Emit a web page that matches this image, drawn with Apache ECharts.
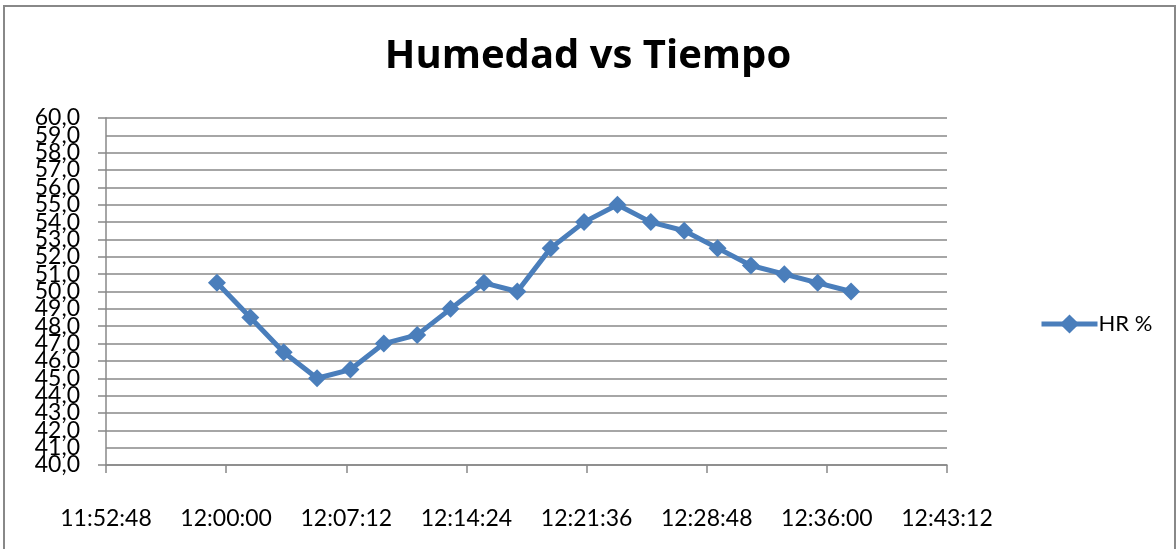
<!DOCTYPE html>
<html>
<head>
<meta charset="utf-8">
<title>Humedad vs Tiempo</title>
<script src="https://cdn.jsdelivr.net/npm/echarts@6/dist/echarts.min.js"></script>
<style>
  html, body { margin: 0; padding: 0; background: #ffffff; }
  #chart { width: 1176px; height: 549px; }
</style>
</head>
<body>
<div id="chart"></div>
<script>
// Relative humidity readings, one every two minutes
const sampleTimes = [
  '11:59:27', '12:01:27', '12:03:27', '12:05:27', '12:07:27',
  '12:09:27', '12:11:27', '12:13:27', '12:15:27', '12:17:27',
  '12:19:27', '12:21:27', '12:23:27', '12:25:27', '12:27:27',
  '12:29:27', '12:31:27', '12:33:27', '12:35:27', '12:37:27'
];
const humidity = [
  50.5, 48.5, 46.5, 45.0, 45.5, 47.0, 47.5, 49.0, 50.5, 50.0,
  52.5, 54.0, 55.0, 54.0, 53.5, 52.5, 51.5, 51.0, 50.5, 50.0
];
const seriesName = 'HR %';
const chartTitle = 'Humedad vs Tiempo';

// Time axis range and step (7 min 12 s), expressed as seconds of the day
const timeAxisMin = '11:52:48';
const timeAxisMax = '12:43:12';
const timeAxisStep = 432;

// Humidity axis range and step
const humMin = 40;
const humMax = 60;
const humStep = 1;

function toSeconds(t) {
  const p = t.split(':').map(Number);
  return p[0] * 3600 + p[1] * 60 + p[2];
}
function toClock(s) {
  const h = Math.floor(s / 3600);
  const m = Math.floor((s % 3600) / 60);
  const sec = Math.round(s % 60);
  return h + ':' + String(m).padStart(2, '0') + ':' + String(sec).padStart(2, '0');
}
const fmtHum = v => v.toFixed(1).replace('.', ',');

const points = sampleTimes.map((t, i) => [toSeconds(t), humidity[i]]);

const blue = '#4a7ebb';
const grey = '#888888';
const font = 'Lato, "Liberation Sans", sans-serif';
const plotRect = { left: 106, right: 229, top: 118, bottom: 84 };

const yLabelStyle = {
  margin: 26,
  fontFamily: font,
  fontSize: 23,
  color: '#000000',
  hideOverlap: false
};

const chart = echarts.init(document.getElementById('chart'));
chart.setOption({
  backgroundColor: '#ffffff',
  animation: false,
  textStyle: { fontFamily: font },
  title: {
    text: chartTitle,
    left: 'center',
    top: 32,
    textStyle: { fontFamily: '"Open Sans", sans-serif', fontWeight: 'bold', fontSize: 40, color: '#000000' }
  },
  graphic: [{
    type: 'rect',
    shape: { x: 4, y: 6, width: 1171, height: 600 },
    style: { fill: 'none', stroke: grey, lineWidth: 2 },
    silent: true,
    z: -1
  }],
  legend: {
    left: 1034,
    top: 308,
    itemWidth: 56,
    itemHeight: 24,
    itemGap: 6,
    lineStyle: { width: 5 },
    textStyle: { fontFamily: font, fontSize: 22, color: '#000000', padding: [0, 0, 0, -4] },
    data: [seriesName]
  },
  // second grid shares the plot rectangle; its axis only carries the
  // labels next to the ends of the humidity scale
  grid: [Object.assign({}, plotRect), Object.assign({}, plotRect)],
  xAxis: [{
    type: 'value',
    gridIndex: 0,
    min: toSeconds(timeAxisMin),
    max: toSeconds(timeAxisMax),
    interval: timeAxisStep,
    axisLine: { show: true, lineStyle: { color: grey, width: 1.5 } },
    axisTick: { show: true, length: 8, lineStyle: { color: grey, width: 1.5 } },
    splitLine: { show: false },
    axisLabel: {
      show: true,
      margin: 42,
      fontFamily: font,
      fontSize: 23,
      color: '#000000',
      showMinLabel: true,
      showMaxLabel: true,
      formatter: v => toClock(v)
    }
  }, {
    type: 'value',
    gridIndex: 1,
    min: toSeconds(timeAxisMin),
    max: toSeconds(timeAxisMax),
    show: false
  }],
  yAxis: [{
    type: 'value',
    gridIndex: 0,
    min: humMin,
    max: humMax,
    interval: humStep,
    axisLine: { show: true, lineStyle: { color: grey, width: 1.5 } },
    axisTick: { show: true, length: 8, lineStyle: { color: grey, width: 1.5 } },
    splitLine: { show: true, lineStyle: { color: grey, width: 1.5 } },
    axisLabel: Object.assign({}, yLabelStyle, {
      showMinLabel: true,
      showMaxLabel: true,
      formatter: fmtHum
    })
  }, {
    type: 'value',
    gridIndex: 1,
    min: humMin,
    max: humMax,
    interval: humStep,
    axisLine: { show: false },
    axisTick: { show: false },
    splitLine: { show: false },
    axisLabel: Object.assign({}, yLabelStyle, {
      showMinLabel: false,
      showMaxLabel: false,
      formatter: v => (v === humMin + humStep || v === humMax - humStep) ? fmtHum(v) : ''
    })
  }],
  series: [{
    name: seriesName,
    type: 'line',
    xAxisIndex: 0,
    yAxisIndex: 0,
    data: points,
    symbol: 'diamond',
    symbolSize: 18,
    lineStyle: { color: blue, width: 5 },
    itemStyle: { color: blue },
    emphasis: { disabled: true }
  }]
});
</script>
</body>
</html>
